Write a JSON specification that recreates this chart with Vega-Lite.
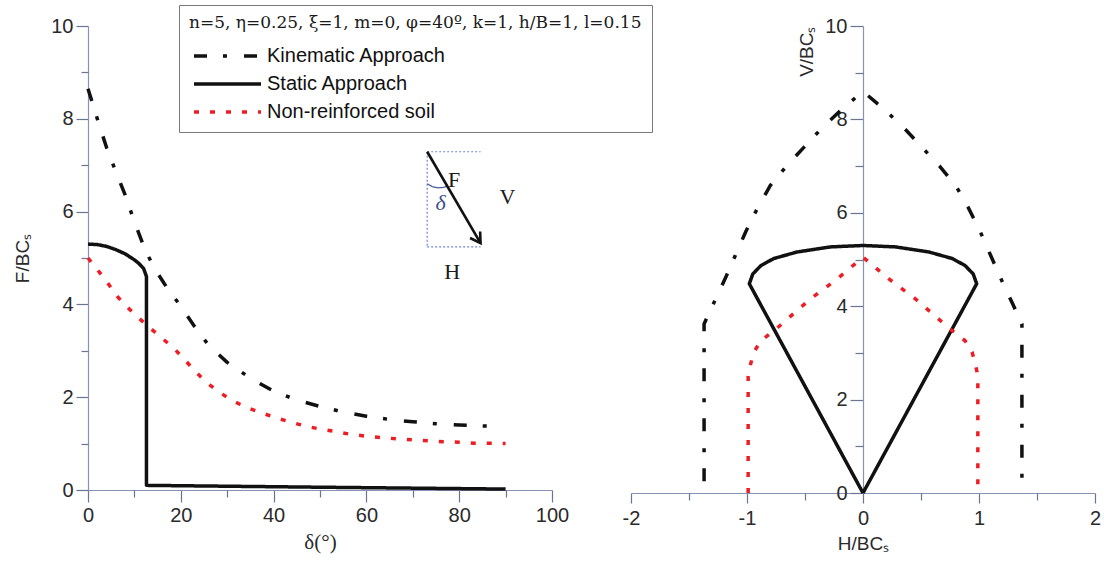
{
  "$schema": "https://vega.github.io/schema/vega-lite/v6.json",
  "background": "white",
  "padding": {"left": 13, "top": 4, "right": 5, "bottom": 5},
  "bounds": "flush",
  "spacing": 79,
  "config": {
    "view": {"stroke": null},
    "axis": {
      "grid": false,
      "domainColor": "#8793b5", "domainWidth": 1.2,
      "tickColor": "#6b7590", "tickWidth": 1.2,
      "labelFont": "Liberation Sans", "labelFontSize": 20, "labelColor": "#2a2a2a",
      "titleFont": "Liberation Sans", "titleFontSize": 19, "titleFontWeight": "normal", "titleColor": "#2a2a2a",
      "labelFlush": false
    },
    "legend": {
      "symbolType": "M-1,0H12.4", "symbolSize": 100, "symbolStrokeWidth": 3.5,
      "padding": 10, "strokeColor": "#7a7a7a", "fillColor": "white",
      "titleFont": "DejaVu Serif", "titleFontSize": 17, "titleFontWeight": "normal", "titleColor": "#1a1a1a", "titlePadding": 14, "titleLimit": 600,
      "labelFont": "Liberation Sans", "labelFontSize": 20, "labelColor": "#111111", "labelOffset": 58, "rowPadding": 8, "labelLimit": 400
    }
  },
  "resolve": {"scale": {"color": "independent", "strokeDash": "independent"}, "legend": {"color": "independent", "strokeDash": "independent"}},
  "datasets": {
    "left": [
      {"s": "Kinematic Approach", "d": 0, "f": 8.65, "o": 1},
      {"s": "Kinematic Approach", "d": 2, "f": 8.0, "o": 2},
      {"s": "Kinematic Approach", "d": 4, "f": 7.38, "o": 3},
      {"s": "Kinematic Approach", "d": 6, "f": 6.86, "o": 4},
      {"s": "Kinematic Approach", "d": 8, "f": 6.36, "o": 5},
      {"s": "Kinematic Approach", "d": 10, "f": 5.78, "o": 6},
      {"s": "Kinematic Approach", "d": 12, "f": 5.26, "o": 7},
      {"s": "Kinematic Approach", "d": 14, "f": 4.83, "o": 8},
      {"s": "Kinematic Approach", "d": 17, "f": 4.36, "o": 9},
      {"s": "Kinematic Approach", "d": 20, "f": 3.96, "o": 10},
      {"s": "Kinematic Approach", "d": 23, "f": 3.52, "o": 11},
      {"s": "Kinematic Approach", "d": 26, "f": 3.12, "o": 12},
      {"s": "Kinematic Approach", "d": 30, "f": 2.75, "o": 13},
      {"s": "Kinematic Approach", "d": 35, "f": 2.41, "o": 14},
      {"s": "Kinematic Approach", "d": 40, "f": 2.13, "o": 15},
      {"s": "Kinematic Approach", "d": 45, "f": 1.94, "o": 16},
      {"s": "Kinematic Approach", "d": 50, "f": 1.80, "o": 17},
      {"s": "Kinematic Approach", "d": 55, "f": 1.68, "o": 18},
      {"s": "Kinematic Approach", "d": 60, "f": 1.59, "o": 19},
      {"s": "Kinematic Approach", "d": 65, "f": 1.52, "o": 20},
      {"s": "Kinematic Approach", "d": 70, "f": 1.47, "o": 21},
      {"s": "Kinematic Approach", "d": 75, "f": 1.43, "o": 22},
      {"s": "Kinematic Approach", "d": 80, "f": 1.40, "o": 23},
      {"s": "Kinematic Approach", "d": 85, "f": 1.38, "o": 24},
      {"s": "Kinematic Approach", "d": 89, "f": 1.37, "o": 25},
      {"s": "Static Approach", "d": 0, "f": 5.30, "o": 1},
      {"s": "Static Approach", "d": 2, "f": 5.29, "o": 2},
      {"s": "Static Approach", "d": 4, "f": 5.25, "o": 3},
      {"s": "Static Approach", "d": 6, "f": 5.18, "o": 4},
      {"s": "Static Approach", "d": 8, "f": 5.09, "o": 5},
      {"s": "Static Approach", "d": 10, "f": 4.96, "o": 6},
      {"s": "Static Approach", "d": 11, "f": 4.88, "o": 7},
      {"s": "Static Approach", "d": 12, "f": 4.77, "o": 8},
      {"s": "Static Approach", "d": 12.6, "f": 4.6, "o": 9},
      {"s": "Static Approach", "d": 12.6, "f": 0.1, "o": 10},
      {"s": "Static Approach", "d": 50, "f": 0.06, "o": 11},
      {"s": "Static Approach", "d": 90, "f": 0.02, "o": 12},
      {"s": "Non-reinforced soil", "d": 0, "f": 5.0, "o": 1},
      {"s": "Non-reinforced soil", "d": 2.4, "f": 4.70, "o": 2},
      {"s": "Non-reinforced soil", "d": 4.4, "f": 4.44, "o": 3},
      {"s": "Non-reinforced soil", "d": 6.5, "f": 4.15, "o": 4},
      {"s": "Non-reinforced soil", "d": 8.7, "f": 3.92, "o": 5},
      {"s": "Non-reinforced soil", "d": 11, "f": 3.70, "o": 6},
      {"s": "Non-reinforced soil", "d": 13.5, "f": 3.48, "o": 7},
      {"s": "Non-reinforced soil", "d": 16, "f": 3.27, "o": 8},
      {"s": "Non-reinforced soil", "d": 18.75, "f": 3.03, "o": 9},
      {"s": "Non-reinforced soil", "d": 20.9, "f": 2.80, "o": 10},
      {"s": "Non-reinforced soil", "d": 23.2, "f": 2.55, "o": 11},
      {"s": "Non-reinforced soil", "d": 25.6, "f": 2.31, "o": 12},
      {"s": "Non-reinforced soil", "d": 28.4, "f": 2.10, "o": 13},
      {"s": "Non-reinforced soil", "d": 31.25, "f": 1.92, "o": 14},
      {"s": "Non-reinforced soil", "d": 34.2, "f": 1.78, "o": 15},
      {"s": "Non-reinforced soil", "d": 37.2, "f": 1.67, "o": 16},
      {"s": "Non-reinforced soil", "d": 40.1, "f": 1.57, "o": 17},
      {"s": "Non-reinforced soil", "d": 43.7, "f": 1.46, "o": 18},
      {"s": "Non-reinforced soil", "d": 46.8, "f": 1.38, "o": 19},
      {"s": "Non-reinforced soil", "d": 50.1, "f": 1.31, "o": 20},
      {"s": "Non-reinforced soil", "d": 53.4, "f": 1.26, "o": 21},
      {"s": "Non-reinforced soil", "d": 56.6, "f": 1.20, "o": 22},
      {"s": "Non-reinforced soil", "d": 60, "f": 1.16, "o": 23},
      {"s": "Non-reinforced soil", "d": 63.3, "f": 1.13, "o": 24},
      {"s": "Non-reinforced soil", "d": 66.7, "f": 1.10, "o": 25},
      {"s": "Non-reinforced soil", "d": 70, "f": 1.08, "o": 26},
      {"s": "Non-reinforced soil", "d": 73.3, "f": 1.06, "o": 27},
      {"s": "Non-reinforced soil", "d": 76.6, "f": 1.04, "o": 28},
      {"s": "Non-reinforced soil", "d": 80, "f": 1.03, "o": 29},
      {"s": "Non-reinforced soil", "d": 83.2, "f": 1.01, "o": 30},
      {"s": "Non-reinforced soil", "d": 86.6, "f": 1.01, "o": 31},
      {"s": "Non-reinforced soil", "d": 90, "f": 1.0, "o": 32}
    ],
    "right": [
      {"s": "Kinematic Approach", "h": -1.37, "v": 0.25, "o": 1},
      {"s": "Kinematic Approach", "h": -1.37, "v": 3.62, "o": 2},
      {"s": "Kinematic Approach", "h": -1.29, "v": 4.05, "o": 3},
      {"s": "Kinematic Approach", "h": -1.19, "v": 4.58, "o": 4},
      {"s": "Kinematic Approach", "h": -1.10, "v": 5.09, "o": 5},
      {"s": "Kinematic Approach", "h": -1.01, "v": 5.60, "o": 6},
      {"s": "Kinematic Approach", "h": -0.91, "v": 6.10, "o": 7},
      {"s": "Kinematic Approach", "h": -0.80, "v": 6.58, "o": 8},
      {"s": "Kinematic Approach", "h": -0.66, "v": 7.00, "o": 9},
      {"s": "Kinematic Approach", "h": -0.51, "v": 7.40, "o": 10},
      {"s": "Kinematic Approach", "h": -0.36, "v": 7.80, "o": 11},
      {"s": "Kinematic Approach", "h": -0.19, "v": 8.20, "o": 12},
      {"s": "Kinematic Approach", "h": 0, "v": 8.6, "o": 13},
      {"s": "Kinematic Approach", "h": 0.19, "v": 8.20, "o": 14},
      {"s": "Kinematic Approach", "h": 0.36, "v": 7.80, "o": 15},
      {"s": "Kinematic Approach", "h": 0.51, "v": 7.40, "o": 16},
      {"s": "Kinematic Approach", "h": 0.66, "v": 7.00, "o": 17},
      {"s": "Kinematic Approach", "h": 0.80, "v": 6.58, "o": 18},
      {"s": "Kinematic Approach", "h": 0.91, "v": 6.10, "o": 19},
      {"s": "Kinematic Approach", "h": 1.01, "v": 5.60, "o": 20},
      {"s": "Kinematic Approach", "h": 1.10, "v": 5.09, "o": 21},
      {"s": "Kinematic Approach", "h": 1.19, "v": 4.58, "o": 22},
      {"s": "Kinematic Approach", "h": 1.29, "v": 4.05, "o": 23},
      {"s": "Kinematic Approach", "h": 1.37, "v": 3.62, "o": 24},
      {"s": "Kinematic Approach", "h": 1.37, "v": 0.25, "o": 25},
      {"s": "Static Approach", "h": 0, "v": 0, "o": 1},
      {"s": "Static Approach", "h": -0.98, "v": 4.48, "o": 2},
      {"s": "Static Approach", "h": -0.95, "v": 4.69, "o": 3},
      {"s": "Static Approach", "h": -0.88, "v": 4.87, "o": 4},
      {"s": "Static Approach", "h": -0.77, "v": 5.02, "o": 5},
      {"s": "Static Approach", "h": -0.57, "v": 5.16, "o": 6},
      {"s": "Static Approach", "h": -0.28, "v": 5.27, "o": 7},
      {"s": "Static Approach", "h": 0, "v": 5.30, "o": 8},
      {"s": "Static Approach", "h": 0.28, "v": 5.27, "o": 9},
      {"s": "Static Approach", "h": 0.57, "v": 5.16, "o": 10},
      {"s": "Static Approach", "h": 0.77, "v": 5.02, "o": 11},
      {"s": "Static Approach", "h": 0.88, "v": 4.87, "o": 12},
      {"s": "Static Approach", "h": 0.95, "v": 4.69, "o": 13},
      {"s": "Static Approach", "h": 0.98, "v": 4.48, "o": 14},
      {"s": "Static Approach", "h": 0, "v": 0, "o": 15},
      {"s": "Non-reinforced soil", "h": -0.99, "v": 0, "o": 1},
      {"s": "Non-reinforced soil", "h": -0.99, "v": 2.5, "o": 2},
      {"s": "Non-reinforced soil", "h": -0.97, "v": 2.75, "o": 3},
      {"s": "Non-reinforced soil", "h": -0.94, "v": 3.02, "o": 4},
      {"s": "Non-reinforced soil", "h": -0.88, "v": 3.26, "o": 5},
      {"s": "Non-reinforced soil", "h": -0.75, "v": 3.51, "o": 6},
      {"s": "Non-reinforced soil", "h": -0.65, "v": 3.73, "o": 7},
      {"s": "Non-reinforced soil", "h": -0.45, "v": 4.16, "o": 8},
      {"s": "Non-reinforced soil", "h": -0.22, "v": 4.59, "o": 9},
      {"s": "Non-reinforced soil", "h": 0, "v": 5.05, "o": 10},
      {"s": "Non-reinforced soil", "h": 0.22, "v": 4.59, "o": 11},
      {"s": "Non-reinforced soil", "h": 0.45, "v": 4.16, "o": 12},
      {"s": "Non-reinforced soil", "h": 0.65, "v": 3.73, "o": 13},
      {"s": "Non-reinforced soil", "h": 0.75, "v": 3.51, "o": 14},
      {"s": "Non-reinforced soil", "h": 0.88, "v": 3.26, "o": 15},
      {"s": "Non-reinforced soil", "h": 0.94, "v": 3.02, "o": 16},
      {"s": "Non-reinforced soil", "h": 0.97, "v": 2.75, "o": 17},
      {"s": "Non-reinforced soil", "h": 0.99, "v": 2.5, "o": 18},
      {"s": "Non-reinforced soil", "h": 0.99, "v": 0, "o": 19}
    ],
    "box": [
      {"a": 73.1, "b": 7.29, "a2": 84.6, "b2": 7.29},
      {"a": 73.1, "b": 7.29, "a2": 73.1, "b2": 5.24},
      {"a": 73.1, "b": 5.24, "a2": 84.6, "b2": 5.24}
    ],
    "arrow": [
      {"a": 73.1, "b": 7.29, "o": 1},
      {"a": 84.6, "b": 5.32, "o": 2}
    ],
    "head": [
      {"a": 84.6, "b": 5.32}
    ],
    "arc": [
      {"a": 73.1, "b": 6.60, "o": 1},
      {"a": 74.2, "b": 6.54, "o": 2},
      {"a": 75.4, "b": 6.51, "o": 3},
      {"a": 76.6, "b": 6.52, "o": 4},
      {"a": 77.5, "b": 6.55, "o": 5}
    ],
    "letters": [
      {"t": "F", "a": 78.9, "b": 6.68},
      {"t": "V", "a": 90.4, "b": 6.32},
      {"t": "H", "a": 78.5, "b": 4.70}
    ],
    "delta": [
      {"t": "δ", "a": 76.0, "b": 6.18}
    ]
  },
  "hconcat": [
    {
      "width": 464,
      "height": 464,
      "resolve": {"axis": {"x": "independent", "y": "independent"}},
      "layer": [
        {
          "data": {"name": "left"},
          "mark": {"type": "line", "strokeWidth": 3.5, "strokeCap": "butt", "strokeJoin": "round"},
          "encoding": {
            "x": {"field": "d", "type": "quantitative", "scale": {"domain": [0, 100], "nice": false, "zero": false},
                  "axis": {"values": [0, 20, 40, 60, 80, 100], "tickSize": 12, "labelPadding": 3, "title": "δ(°)", "titleFont": "Liberation Serif", "titleFontSize": 21, "titlePadding": 6}},
            "y": {"field": "f", "type": "quantitative", "scale": {"domain": [0, 10], "nice": false},
                  "axis": {"values": [0, 2, 4, 6, 8, 10], "tickSize": 12, "labelPadding": 3, "title": "F/BCₛ", "titlePadding": 18}},
            "color": {"field": "s", "type": "nominal",
                      "scale": {"domain": ["Kinematic Approach", "Static Approach", "Non-reinforced soil"], "range": ["#111111", "#111111", "#ee1d23"]},
                      "legend": {"title": "n=5, η=0.25, ξ=1, m=0, φ=40º, k=1, h/B=1, l=0.15", "orient": "none", "legendX": 91, "legendY": -21}},
            "strokeDash": {"field": "s", "type": "nominal",
                      "scale": {"domain": ["Kinematic Approach", "Static Approach", "Non-reinforced soil"], "range": [[13, 16, 4, 17], [1, 0], [5, 11]]},
                      "legend": {"title": "n=5, η=0.25, ξ=1, m=0, φ=40º, k=1, h/B=1, l=0.15", "orient": "none", "legendX": 91, "legendY": -21}},
            "order": {"field": "o", "type": "quantitative"}
          }
        },
        {
          "data": {"name": "box"},
          "mark": {"type": "rule", "color": "#6f86c6", "strokeWidth": 1.2, "strokeDash": [2, 2]},
          "encoding": {
            "x": {"field": "a", "type": "quantitative", "axis": {"orient": "bottom", "values": [10, 30, 50, 70, 90], "tickSize": 7, "labels": false, "domain": false, "title": null}},
            "y": {"field": "b", "type": "quantitative", "axis": {"orient": "left", "values": [1, 3, 5, 7, 9], "tickSize": 7, "labels": false, "domain": false, "title": null}},
            "x2": {"field": "a2"},
            "y2": {"field": "b2"}
          }
        },
        {
          "data": {"name": "arc"},
          "mark": {"type": "line", "color": "#4a5f9c", "strokeWidth": 1.3},
          "encoding": {
            "x": {"field": "a", "type": "quantitative", "axis": null},
            "y": {"field": "b", "type": "quantitative", "axis": null},
            "order": {"field": "o", "type": "quantitative"}
          }
        },
        {
          "data": {"name": "arrow"},
          "mark": {"type": "line", "color": "#111111", "strokeWidth": 2.6},
          "encoding": {
            "x": {"field": "a", "type": "quantitative", "axis": null},
            "y": {"field": "b", "type": "quantitative", "axis": null},
            "order": {"field": "o", "type": "quantitative"}
          }
        },
        {
          "data": {"name": "head"},
          "mark": {"type": "point", "shape": "M-0.6,-1L0,0L0.6,-1", "filled": false, "color": "#111111", "strokeWidth": 2.6, "size": 400, "angle": -33, "opacity": 1},
          "encoding": {
            "x": {"field": "a", "type": "quantitative", "axis": null},
            "y": {"field": "b", "type": "quantitative", "axis": null}
          }
        },
        {
          "data": {"name": "letters"},
          "mark": {"type": "text", "font": "Liberation Serif", "fontSize": 22, "color": "#1a1a1a"},
          "encoding": {
            "x": {"field": "a", "type": "quantitative", "axis": null},
            "y": {"field": "b", "type": "quantitative", "axis": null},
            "text": {"field": "t"}
          }
        },
        {
          "data": {"name": "delta"},
          "mark": {"type": "text", "font": "Liberation Serif", "fontSize": 22, "fontStyle": "italic", "color": "#3a4e8c"},
          "encoding": {
            "x": {"field": "a", "type": "quantitative", "axis": null},
            "y": {"field": "b", "type": "quantitative", "axis": null},
            "text": {"field": "t"}
          }
        }
      ]
    },
    {
      "width": 464,
      "height": 467,
      "resolve": {"axis": {"x": "independent", "y": "independent"}},
      "layer": [
        {
          "data": {"name": "right"},
          "transform": [{"filter": "datum.s != 'Non-reinforced soil'"}],
          "mark": {"type": "line", "strokeWidth": 3.5, "strokeCap": "butt", "strokeJoin": "round"},
          "encoding": {
            "x": {"field": "h", "type": "quantitative", "scale": {"domain": [-2, 2], "nice": false, "zero": false},
                  "axis": {"values": [-2, -1, 0, 1, 2], "tickSize": 10, "labelPadding": 5, "labelExpr": "datum.value < 0 ? '-' + abs(datum.value) : datum.label", "title": "H/BCₛ", "titlePadding": 6}},
            "y": {"field": "v", "type": "quantitative", "scale": {"domain": [0, 10], "nice": false},
                  "axis": {"values": [0, 2, 4, 6, 8, 10], "tickSize": 13, "labelPadding": 3, "offset": -232, "title": "V/BCₛ", "titleAnchor": "end", "titlePadding": 8}},
            "color": {"field": "s", "type": "nominal",
                      "scale": {"domain": ["Kinematic Approach", "Static Approach", "Non-reinforced soil"], "range": ["#111111", "#111111", "#ee1d23"]},
                      "legend": null},
            "strokeDash": {"field": "s", "type": "nominal",
                      "scale": {"domain": ["Kinematic Approach", "Static Approach", "Non-reinforced soil"], "range": [[13, 16, 4, 17], [1, 0], [5, 11]]},
                      "legend": null},
            "order": {"field": "o", "type": "quantitative"}
          }
        },
        {
          "data": {"name": "right"},
          "transform": [{"filter": "datum.s == 'Non-reinforced soil'"}],
          "mark": {"type": "line", "strokeWidth": 3.5, "strokeCap": "butt", "strokeJoin": "round"},
          "encoding": {
            "x": {"field": "h", "type": "quantitative",
                  "axis": {"orient": "bottom", "values": [-1.5, -0.5, 0.5, 1.5], "tickSize": 7, "labels": false, "domain": false, "title": null}},
            "y": {"field": "v", "type": "quantitative",
                  "axis": {"orient": "left", "values": [1, 3, 5, 7, 9], "tickSize": 8, "labels": false, "domain": false, "offset": -232, "title": null}},
            "color": {"field": "s", "type": "nominal", "legend": null},
            "strokeDash": {"field": "s", "type": "nominal", "legend": null},
            "order": {"field": "o", "type": "quantitative"}
          }
        }
      ]
    }
  ]
}
